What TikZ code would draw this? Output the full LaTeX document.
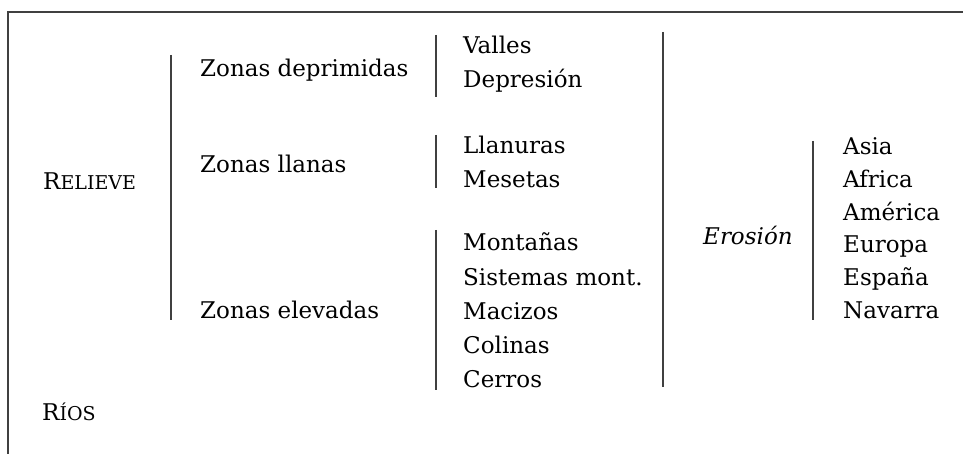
\documentclass[tikz,border=0pt]{standalone}
\usepackage{fontspec}
\setmainfont{DejaVu Serif}
\begin{document}
\begin{tikzpicture}[x=1pt, y=-1pt,
    txt/.style={anchor=base west, inner sep=0pt, font=\fontsize{23}{28}\selectfont},
    bar/.style={draw=black!75, line width=1.3pt}]

  \def\big{\fontsize{23}{28}\selectfont}
  \def\sml{\fontsize{19}{28}\selectfont}

  \useasboundingbox (0,0) rectangle (963,454);

  %frame
  \draw[bar] (8,454) -- (8,12) -- (963,12);

  %left titles
  \node[txt] (relieve) at (43,190) {{\big R}{\sml ELIEVE}};
  \node[txt] (rios) at (42,420) {{\big R}{\sml ÍOS}};

  %zonas
  \foreach \y/\txt/\name in {77/Zonas deprimidas/zdep, 173/Zonas llanas/zlla, 318/Zonas elevadas/zele}{
    \node[txt] (\name) at (200,\y) {\txt};
  }

  %second column
  \foreach \y/\txt/\name in {54/Valles/valles, 88/Depresión/depres,
      154/Llanuras/llan, 188/Mesetas/mes,
      251/Montañas/mont, 285/Sistemas mont./sist, 319/Macizos/maciz, 353/Colinas/colin, 387/Cerros/cerros}{
    \node[txt] (\name) at (463,\y) {\txt};
  }

  %erosion
  \node[txt] (erosion) at (703,245) {\textit{Erosión}};
  \def\dy{32.6}
  \foreach \i/\txt/\name in {0/Asia/asia, 1/Africa/africa, 2/América/america, 3/Europa/europa, 4/España/espana, 5/Navarra/navarra}{
    \node[txt] (\name) at (843,155+\i*\dy) {\txt};
  }

  %bars
  \draw[bar] (171,55) -- (171,320);
  \draw[bar] (436,35) -- (436,97);
  \draw[bar] (436,135) -- (436,188);
  \draw[bar] (436,230) -- (436,390);
  \draw[bar] (663,32) -- (663,387);
  \draw[bar] (813,141) -- (813,320);

\end{tikzpicture}
\end{document}
